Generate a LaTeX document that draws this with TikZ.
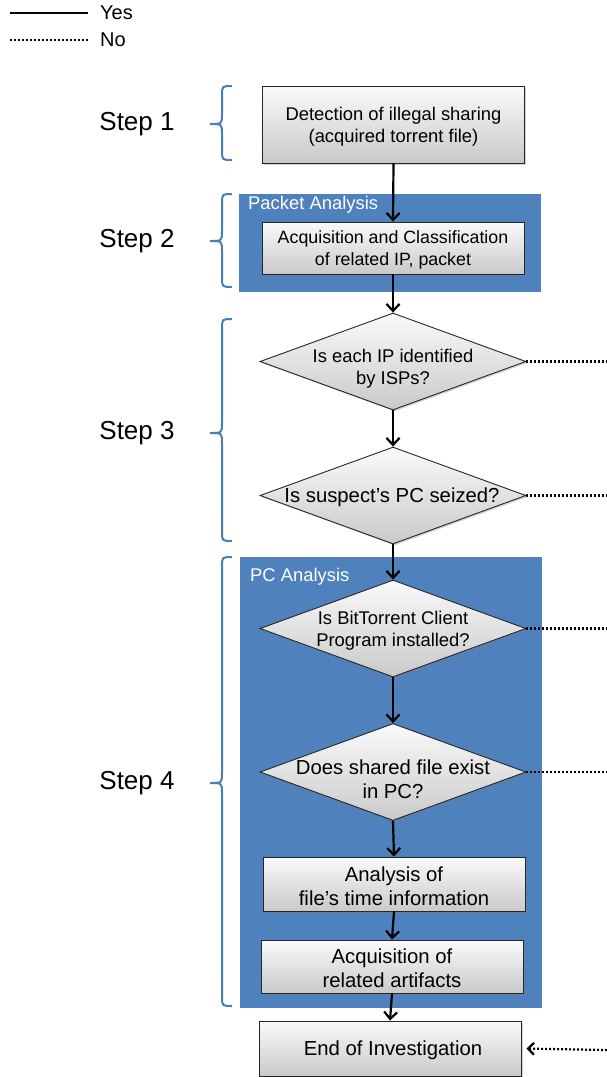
\documentclass[tikz,border=0pt]{standalone}
\usepackage{fontspec}
\setmainfont{Liberation Sans}
\usetikzlibrary{shapes.geometric,arrows.meta,shadows}
\definecolor{panel}{HTML}{4F81BD}
\definecolor{bracecol}{HTML}{4A7EBB}
\begin{document}
\begin{tikzpicture}[x=1pt,y=-1pt,
  txt/.style={font=\fontsize{18.4}{22}\selectfont, align=center, inner sep=0pt},
  txtl/.style={font=\fontsize{20.3}{24}\selectfont, align=center, inner sep=0pt},
  steplbl/.style={font=\fontsize{26}{30}\selectfont, inner sep=0pt},
  legtxt/.style={font=\fontsize{20}{24}\selectfont, anchor=west, inner sep=0pt},
  paneltxt/.style={font=\fontsize{18.4}{22}\selectfont, text=white, anchor=west, inner sep=0pt},
  boxnode/.style={draw=black!85, line width=0.9pt, top color=gray!4, bottom color=gray!42,
     minimum width=262pt, drop shadow={shadow xshift=1.5pt, shadow yshift=-1.5pt, opacity=0.35}},
  dia/.style={shape=diamond, draw=black!85, line width=0.9pt, top color=gray!4, bottom color=gray!42,
     inner sep=0pt, minimum width=266pt, minimum height=97pt,
     drop shadow={shadow xshift=1.5pt, shadow yshift=-1.5pt, opacity=0.35}},
  panelbox/.style={fill=panel, draw=none, inner sep=0pt},
  yes/.style={line width=2.2pt, -{Straight Barb[length=7pt,width=13pt]}},
  yesline/.style={line width=2.2pt},
  no/.style={line width=2.2pt, dash pattern=on 2pt off 2pt},
  brace/.style={draw=bracecol, line width=2pt}
]
\useasboundingbox (0,0) rectangle (607,1077);

% legend
\coordinate (ly1) at (10,13); \coordinate (ly2) at (88,13);
\coordinate (ln1) at (10,40); \coordinate (ln2) at (88,40);
\draw[yesline] (ly1) -- (ly2);
\draw[no] (ln1) -- (ln2);
\node[legtxt] (lyes) at (100,13) {Yes};
\node[legtxt] (lno) at (100,40) {No};

% panels
\node[panelbox, minimum width=302pt, minimum height=98pt] (pkt) at (390,243) {};
\node[paneltxt] (pktlbl) at (248,205) {Packet Analysis};
\node[panelbox, minimum width=302pt, minimum height=451pt] (pc) at (391,782.5) {};
\node[paneltxt] (pclbl) at (250,577) {PC Analysis};

% braces
\draw[brace] (232,86) .. controls (222,86) .. (222,96) -- (222,114) .. controls (222,124) .. (210,124) .. controls (222,124) .. (222,134) -- (222,150) .. controls (222,160) .. (232,160);
\draw[brace] (232,194) .. controls (222,194) .. (222,204) -- (222,231) .. controls (222,241) .. (210,241) .. controls (222,241) .. (222,251) -- (222,277) .. controls (222,287) .. (232,287);
\draw[brace] (232,319) .. controls (222,319) .. (222,329) -- (222,423) .. controls (222,433) .. (210,433) .. controls (222,433) .. (222,443) -- (222,531) .. controls (222,541) .. (232,541);
\draw[brace] (232,557) .. controls (222,557) .. (222,567) -- (222,773) .. controls (222,783) .. (210,783) .. controls (222,783) .. (222,793) -- (222,996) .. controls (222,1006) .. (232,1006);

% step labels
\node[steplbl] (s1) at (137,124) {Step 1};
\node[steplbl] (s2) at (137,241) {Step 2};
\node[steplbl] (s3) at (137,433) {Step 3};
\node[steplbl] (s4) at (137,783) {Step 4};

% boxes
\node[boxnode, minimum height=77pt] (b1) at (393.5,124.5) {};
\node[txt] (b1t) at (393.5,127) {Detection of illegal sharing\\(acquired torrent file)};
\node[boxnode, minimum height=52pt] (b2) at (393,248) {};
\node[txt, font=\fontsize{17.8}{22}\selectfont] (b2t) at (393,250) {Acquisition and Classification\\of related IP, packet};

% diamonds
\node[dia] (d1) at (393,361.5) {};
\node[txt] (d1t) at (393,369) {Is each IP identified\\by ISPs?};
\node[dia] (d2) at (393,495.5) {};
\node[txtl] (d2t) at (392,497) {Is suspect’s PC seized?};
\node[dia] (d3) at (393,628.5) {};
\node[txt] (d3t) at (393,631) {Is BitTorrent Client\\Program installed?};
\node[dia] (d4) at (393,772) {};
\node[txtl] (d4t) at (393,779) {Does shared file exist\\in PC?};

% lower boxes
\node[boxnode, minimum height=54pt] (b3) at (394,884) {};
\node[txtl] (b3t) at (394,886) {Analysis of\\file’s time information};
\node[boxnode, minimum height=53pt] (b4) at (392,966.5) {};
\node[txtl] (b4t) at (392,968) {Acquisition of\\related artifacts};
\node[boxnode, minimum height=55pt] (b5) at (390,1048.5) {};
\node[txtl] (b5t) at (393,1050) {End of Investigation};

% yes connectors
\draw[yes] (b1.south) -- (b2.north);
\draw[yes] (b2.south) -- (d1.north);
\draw[yes] (d1.south) -- (d2.north);
\draw[yes] (d2.south) -- (d3.north);
\draw[yes] (d3.south) -- (d4.north);
\draw[yes] (d4.south) -- (b3.north);
\draw[yes] (b3.south) -- (b4.north);
\draw[yes] (b4.south) -- (b5.north);

% no connectors
\coordinate (n1) at (607,361.5);
\coordinate (n2) at (607,495.5);
\coordinate (n3) at (607,628.5);
\coordinate (n4) at (607,772);
\coordinate (n5) at (607,1050);
\draw[no] (d1.east) -- (n1);
\draw[no] (d2.east) -- (n2);
\draw[no] (d3.east) -- (n3);
\draw[no] (d4.east) -- (n4);
\draw[no, -{Straight Barb[length=6pt,width=12pt]}, shorten >=5pt] (n5) -- (b5.east);
\end{tikzpicture}
\end{document}
